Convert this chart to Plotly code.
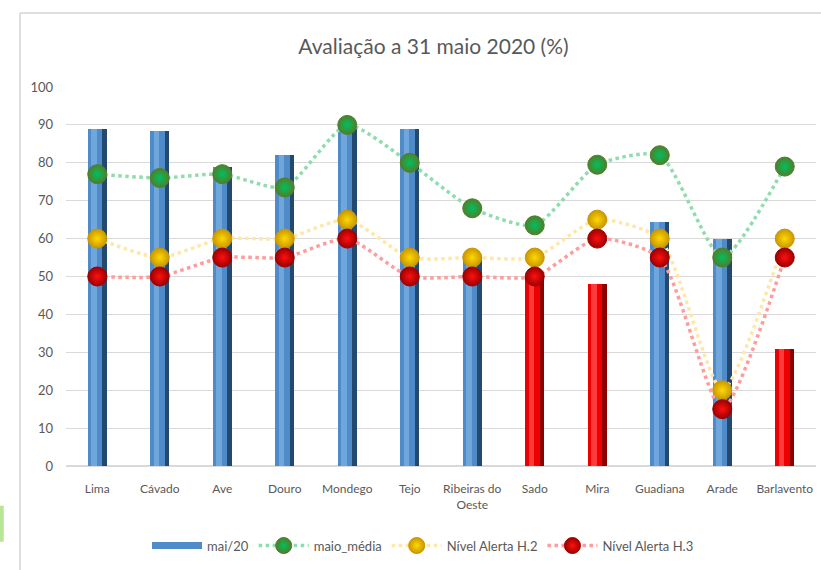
import plotly.graph_objects as go

# Bacias hidrográficas e armazenamento (%) a 31 de maio de 2020
bacias = ["Lima", "Cávado", "Ave", "Douro", "Mondego", "Tejo",
          "Ribeiras do<br>Oeste", "Sado", "Mira", "Guadiana", "Arade", "Barlavento"]
mai20 = [89, 88.5, 79, 82, 89.5, 89, 55.5, 50, 48, 64.5, 60, 31]
maio_media = [77, 76, 77, 73.5, 90, 80, 68, 63.5, 79.5, 82, 55, 79]
alerta_h2 = [60, 55, 60, 60, 65, 55, 55, 55, 65, 60, 20, 60]
alerta_h3 = [50, 50, 55, 55, 60, 50, 50, 50, 60, 55, 15, 55]
y_ticks = [0, 10, 20, 30, 40, 50, 60, 70, 80, 90, 100]

FONT = "Lato, 'Open Sans', sans-serif"
GREY = "#595959"

# bars at or below the H.3 alert level are drawn in red
abaixo = [v <= h for v, h in zip(mai20, alerta_h3)]
cor_base = ["#8e0000" if a else "#24496f" for a in abaixo]
cor_meio = ["#ee0000" if a else "#4f8bc9" for a in abaixo]
cor_luz = ["#ff3a3a" if a else "#6fa7dd" for a in abaixo]

fig = go.Figure()

# cylinder look: dark shell, body and a lighter stripe
fig.add_trace(go.Bar(x=bacias, y=mai20, name="mai/20", width=0.30,
                     marker=dict(color=cor_base, line=dict(width=0)),
                     showlegend=False, hoverinfo="skip"))
fig.add_trace(go.Bar(x=bacias, y=mai20, name="mai/20", width=0.23, offset=-0.15,
                     marker=dict(color=cor_meio, line=dict(width=0)),
                     showlegend=False, hoverinfo="skip"))
fig.add_trace(go.Bar(x=bacias, y=mai20, name="mai/20", width=0.09, offset=-0.10,
                     marker=dict(color=cor_luz, line=dict(width=0)),
                     showlegend=False, hoverinfo="skip"))
# legend entry for the bars: a wide blue band
fig.add_trace(go.Scatter(x=[None], y=[None], name="mai/20", mode="lines",
                         line=dict(color="#4f8bc9", width=7)))


def serie(nome, valores, linha, borda, centro):
    fig.add_trace(go.Scatter(
        x=bacias, y=valores, name=nome, mode="lines+markers",
        line=dict(color=linha, width=3.5, dash="dot", shape="spline", smoothing=0.6),
        marker=dict(size=19, color=borda,
                    gradient=dict(type="radial", color=centro),
                    line=dict(color=borda, width=1))))


serie("maio_média", maio_media, "#8fdcae", "#4f7f2a", "#00c060")
serie("Nível Alerta H.2", alerta_h2, "#ffe7a8", "#c99700", "#ffd800")
serie("Nível Alerta H.3", alerta_h3, "#ff9c9c", "#9c0000", "#ff1010")

fig.update_layout(
    width=821, height=570,
    margin=dict(l=66, r=5, t=87, b=104),
    paper_bgcolor="white", plot_bgcolor="white",
    barmode="overlay", bargap=0,
    font=dict(family=FONT, size=12, color=GREY),
    title=dict(text="Avaliação a 31 maio 2020 (%)", x=0.49, xref="paper",
               y=0.9175, yref="container", yanchor="middle",
               font=dict(family=FONT, size=21, color=GREY)),
    xaxis=dict(range=[-0.5, 11.5], showgrid=False, showline=False, ticks="",
               ticklabelstandoff=14, tickfont=dict(size=12, color=GREY)),
    yaxis=dict(range=[0, 100], tickvals=y_ticks, showgrid=True, gridcolor="#d9d9d9",
               gridwidth=1, zeroline=True, zerolinecolor="#d9d9d9", ticks="",
               ticklabelstandoff=12, tickfont=dict(size=13, color=GREY)),
    legend=dict(orientation="h", x=0.476, xanchor="center", y=-0.21, yanchor="middle",
                font=dict(size=13, color=GREY), itemwidth=50,
                traceorder="normal"),
    shapes=[
        # chart frame (left and top edges)
        dict(type="line", xref="paper", yref="paper", x0=-0.0613, x1=-0.0613,
             y0=1.195, y1=-0.30, line=dict(color="#d4d4d4", width=1.5)),
        dict(type="line", xref="paper", yref="paper", x0=-0.0613, x1=1.01,
             y0=1.195, y1=1.195, line=dict(color="#d4d4d4", width=1.5)),
        # green edge of the neighbouring graphic
        dict(type="rect", xref="paper", yref="paper", x0=-0.09, x1=-0.083,
             y0=-0.105, y1=-0.20, fillcolor="#a6e07a", line=dict(width=0), opacity=0.8),
    ],
)

fig.write_html("out.html")
